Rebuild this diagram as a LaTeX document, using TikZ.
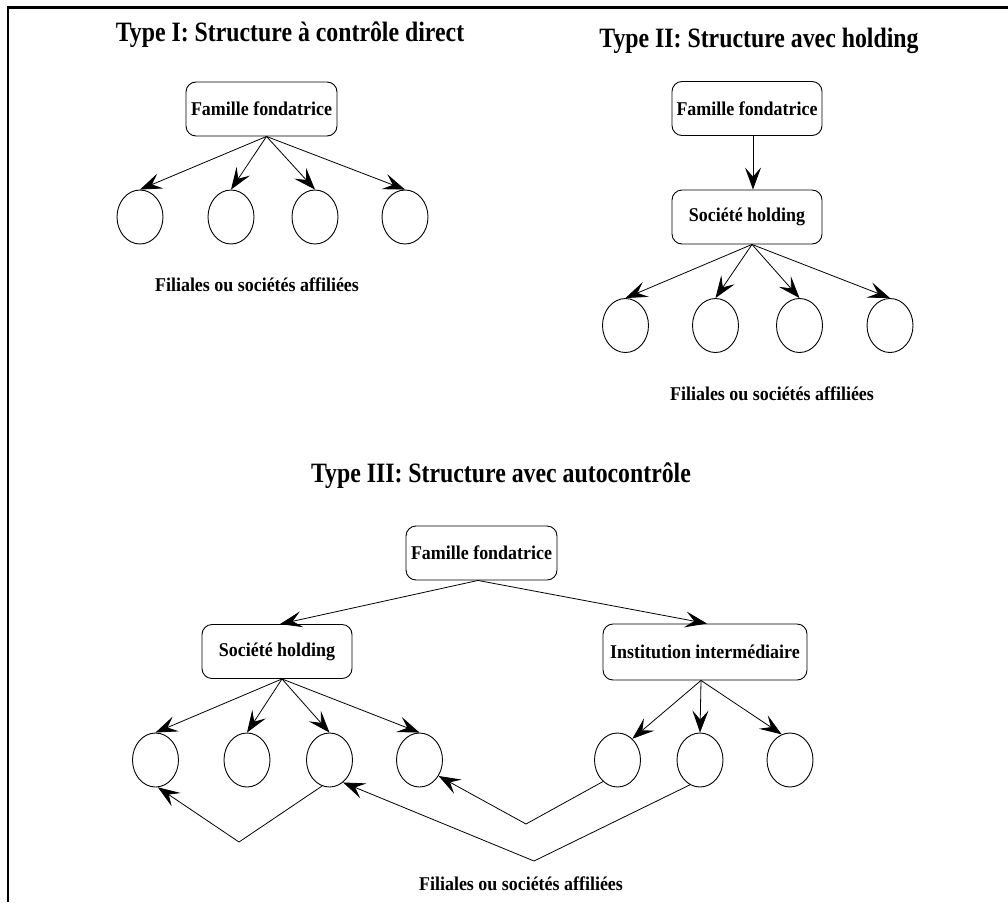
\documentclass[tikz,border=0pt]{standalone}
\usepackage{fontspec}
\setmainfont{Liberation Serif}
\newfontfamily\headfont[FakeStretch=0.85]{Liberation Serif}
\newfontfamily\boxfont[FakeStretch=0.92]{Liberation Serif}
\usetikzlibrary{shapes.geometric,arrows.meta}
\tikzset{
  box/.style={draw, rounded corners=10pt, minimum height=54pt, inner sep=2pt,
    line width=0.9pt, font=\boxfont\bfseries\fontsize{19.5}{21}\selectfont},
  sub/.style={draw, ellipse, minimum width=46pt, minimum height=54pt, inner sep=0pt, line width=0.9pt},
  arr/.style={-{Stealth[length=22pt,width=16pt,inset=9pt]}, line width=0.8pt},
  head/.style={anchor=base, inner sep=0pt, font=\headfont\bfseries\fontsize{28}{30}\selectfont},
  lab/.style={anchor=base, inner sep=0pt, font=\boxfont\bfseries\fontsize{19.5}{21}\selectfont},
  frameline/.style={line width=2.5pt}
}
\begin{document}
\begin{tikzpicture}[x=1pt,y=-1pt]
\useasboundingbox (0,0) rectangle (1008,902);
% frame
\coordinate (fb) at (8,902);
\coordinate (ftl) at (8,7.3);
\coordinate (ftr) at (1008,7.3);
\draw[frameline] (fb) -- (ftl) -- (ftr);

% headings
\node[head] (h1) at (290,41) {Type I: Structure à contrôle direct};
\node[head] (h2) at (759,47) {Type II: Structure avec holding};
\node[head] (h3) at (501,482) {Type III: Structure avec autocontrôle};

% ---- Type I
\node[box, minimum width=151pt] (f1) at (261.5,109) {Famille fondatrice};
\coordinate (o1) at ([xshift=5pt]f1.south);
\foreach \i/\x in {1/140,2/231,3/315,4/405}{
  \node[sub] (a\i) at (\x,217) {};
  \draw[arr] (o1) -- (a\i.north);
}
\node[lab] (l1) at (257,291) {Filiales ou sociétés affiliées};

% ---- Type II
\node[box, minimum width=150pt] (f2) at (747,108.5) {Famille fondatrice};
\node[box, minimum width=150pt] (s2) at (747,217) {Société holding};
\draw[arr] ([xshift=6pt]f2.south) -- ([xshift=6pt]s2.north);
\coordinate (o2) at ([xshift=5pt]s2.south);
\foreach \i/\x in {1/625.5,2/715.5,3/799.5,4/890}{
  \node[sub] (b\i) at (\x,325.5) {};
  \draw[arr] (o2) -- (b\i.north);
}
\node[lab] (l2) at (772,400) {Filiales ou sociétés affiliées};

% ---- Type III
\node[box, minimum width=151pt] (f3) at (481.5,553) {Famille fondatrice};
\node[box, minimum width=150pt] (s3) at (277,651.5) {Société holding};
\node[box, minimum width=204pt, minimum height=56pt] (i3) at (705,652) {Institution intermédiaire};
\coordinate (o3) at ([xshift=-3.5pt]f3.south);
\draw[arr] (o3) -- ([xshift=3pt]s3.north);
\draw[arr] (o3) -- ([xshift=2pt]i3.north);

\foreach \i/\x in {1/155.5,2/247,3/329.5,4/419.5}{
  \node[sub] (c\i) at (\x,760) {};
}
\foreach \i/\x in {1/617.5,2/700,3/790}{
  \node[sub] (d\i) at (\x,760) {};
}
\coordinate (o4) at ([xshift=5pt]s3.south);
\foreach \i in {1,2,3,4}{
  \draw[arr] (o4) -- (c\i.north);
}
\coordinate (o5) at ([xshift=-4pt]i3.south);
\draw[arr] (o5) -- (d1.55);
\draw[arr] (o5) -- (d2.north);
\draw[arr] (o5) -- (d3.108);

% cross-holdings
\coordinate (v1) at (239,842);
\coordinate (v2) at (526,824);
\coordinate (v3) at (534,861);
\draw[arr] (c3.-106) -- (v1) -- (c1.-85);
\draw[arr] (d1.236) -- (v2) -- (c4.-40);
\draw[arr] (d2.248) -- (v3) -- (c3.-59);

\node[lab] (l3) at (521,890) {Filiales ou sociétés affiliées};
\end{tikzpicture}
\end{document}
